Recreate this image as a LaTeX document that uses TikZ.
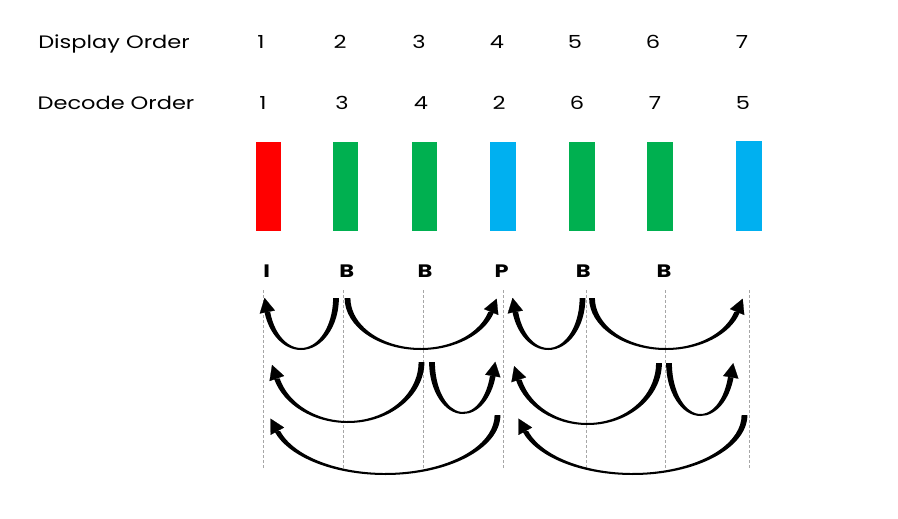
\documentclass[tikz,border=0pt]{standalone}
\usepackage{fontspec}
\setmainfont{Poppins}[FakeStretch=1.25]
\usetikzlibrary{calc,arrows.meta}
\definecolor{bred}{HTML}{FF0000}
\definecolor{bgreen}{HTML}{00B050}
\definecolor{bblue}{HTML}{00B0F0}
% tapered U-shaped arrow: #1 start x, #2 tip x, #3 top y, #4 bottom y, #5 name
\newcommand\tarc[5]{%
 \pgfmathsetmacro\tcx{(#1+#2)/2}%
 \pgfmathsetmacro\trx{abs(#1-#2)/2}%
 \pgfmathsetmacro\thy{#4-#3}%
 \pgfmathsetmacro\tsa{(#2<#1) ? 360 : 180}%
 \pgfmathsetmacro\tea{(#2<#1) ? 196 : 344}%
 \pgfmathsetmacro\tsg{(#2<#1) ? 1 : -1}%
 \pgfmathsetmacro\tbx{\tcx+\trx*cos(\tea)}%
 \pgfmathsetmacro\tby{-#3+\thy*sin(\tea)}%
 \pgfmathsetmacro\tdx{\tsg*\trx*sin(\tea)}%
 \pgfmathsetmacro\tdy{-\tsg*\thy*cos(\tea)}%
 \pgfmathsetmacro\tln{veclen(\tdx,\tdy)}%
 \pgfmathsetmacro\tox{\trx+2.9}%
 \pgfmathsetmacro\toy{\thy+1}%
 \pgfmathsetmacro\tix{\trx-2.9}%
 \pgfmathsetmacro\tiy{\thy-1}%
 \coordinate (#5-c) at (\tcx,-#3);
 \coordinate (#5-base) at (\tbx,\tby);
 \coordinate (#5-tip) at ({\tbx+14.5*\tdx/\tln},{\tby+14.5*\tdy/\tln});
 \fill ($(#5-c)+(\tsa:{\tox} and {\toy})$) arc[start angle=\tsa,end angle=\tea,x radius=\tox,y radius=\toy]
   -- ($(#5-c)+(\tea:{\tix} and {\tiy})$) arc[start angle=\tea,end angle=\tsa,x radius=\tix,y radius=\tiy] -- cycle;
 \draw[arrowline] (#5-base) -- (#5-tip);
}
\tikzset{
  lbl/.style={anchor=base,inner sep=0pt,font=\fontsize{18}{21}\selectfont},
  ftype/.style={anchor=base,inner sep=0pt,font=\fontsize{18}{21}\selectfont\bfseries},
  bar/.style={fill=#1,draw=none},
  guide/.style={draw=gray!70,line width=0.6pt,dash pattern=on 3pt off 2pt},
  arrowline/.style={line width=0.2pt,-{Triangle[width=15.5pt,length=14.5pt]}}
}
\begin{document}
\begin{tikzpicture}[x=1pt,y=1pt]
\useasboundingbox (0,0) rectangle (898,-519);
% row labels
\node[lbl] (disp) at (114,-48.3) {Display Order};
\node[lbl] (dec) at (116,-110) {Decode Order};
% display order numbers
\foreach \x/\n [count=\i] in {261/1,340/2,419/3,497/4,575/5,653/6,742/7}
  \node[lbl] (d\i) at (\x,-48.3) {\n};
% decode order numbers
\foreach \x/\n [count=\i] in {263/1,342/3,421/4,499/2,577/6,655/7,743/5}
  \node[lbl] (c\i) at (\x,-110) {\n};
% frame bars
\fill[bar=bred]   (256,-142) rectangle (281,-231);
\fill[bar=bgreen] (333,-142) rectangle (358,-231);
\fill[bar=bgreen] (412,-142) rectangle (437,-231);
\fill[bar=bblue]  (490,-142) rectangle (516,-231);
\fill[bar=bgreen] (569,-142) rectangle (595,-231);
\fill[bar=bgreen] (647,-142) rectangle (673,-231);
\fill[bar=bblue]  (736,-141) rectangle (762,-231);
% frame types
\foreach \x/\t [count=\i] in {266.7/I,346.7/B,425/B,501.7/P,583.3/B,664/B}
  \node[ftype] (t\i) at (\x,-277.3) {\t};
% guides
\foreach \x [count=\i] in {263,343.5,423.5,503.5,586.5,665.5,749}{
  \coordinate (g\i a) at (\x,-290);
  \coordinate (g\i b) at (\x,-468);
  \draw[guide] (g\i a) -- (g\i b);
}
% reference arrows
\tarc{336}{266}{298}{349}{r1}
\tarc{347.5}{494}{298}{349}{r2}
\tarc{582.5}{514}{298}{349}{r3}
\tarc{592}{740}{298}{349}{r4}
\tarc{421.5}{274}{362}{422}{r5}
\tarc{432}{494}{362}{413}{r6}
\tarc{659}{516}{363}{424}{r7}
\tarc{669}{732}{363}{415}{r8}
\tarc{497.5}{273}{415}{474}{r9}
\tarc{744.5}{521}{415}{474}{r10}
\end{tikzpicture}
\end{document}
